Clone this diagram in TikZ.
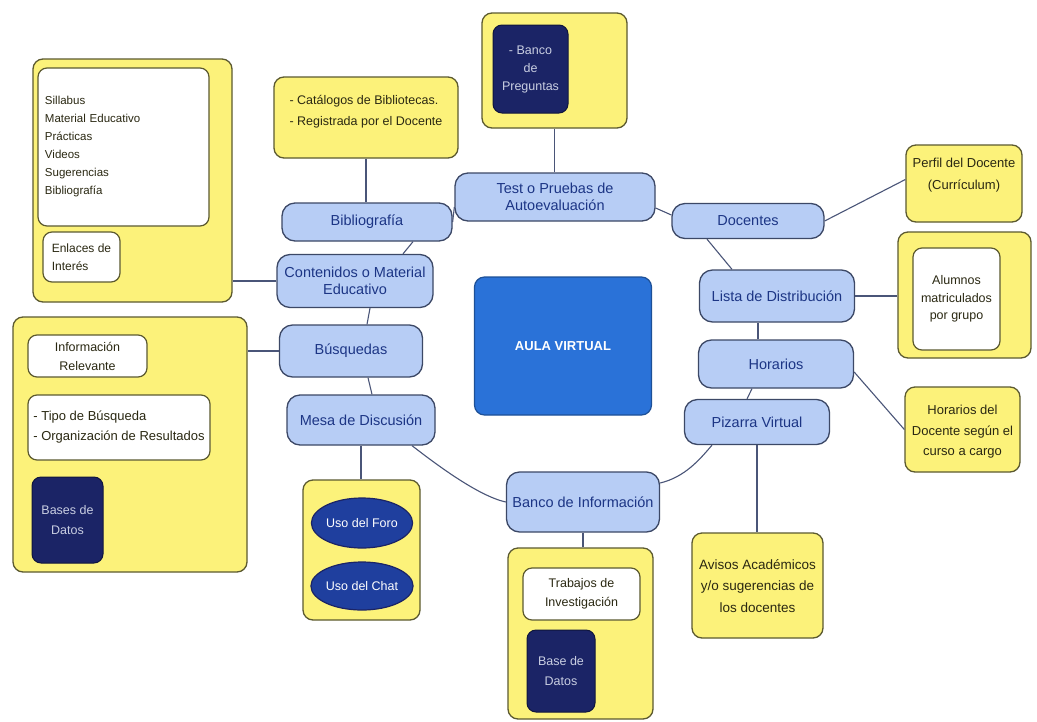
\documentclass[tikz,border=0pt]{standalone}
\usepackage{fontspec}
\setmainfont{Liberation Sans}
\usetikzlibrary{shapes.geometric}

\definecolor{lblue}{HTML}{B7CDF5}
\definecolor{bordblue}{HTML}{3C4866}
\definecolor{tblue}{HTML}{1C3585}
\definecolor{yfill}{HTML}{FCF27A}
\definecolor{ybord}{HTML}{5C5A30}
\definecolor{ytext}{HTML}{2A2812}
\definecolor{navy}{HTML}{1B2466}
\definecolor{navytext}{HTML}{C9CEE2}
\definecolor{ellfill}{HTML}{1F3F9E}
\definecolor{aulafill}{HTML}{2A72D8}
\definecolor{linkc}{HTML}{4A5578}

\tikzset{
  bnode/.style={draw=bordblue, fill=lblue, rounded corners=13pt, line width=1.3pt,
    text=tblue, font=\fontsize{14.5}{17}\selectfont, align=center, inner sep=0pt},
  ybox/.style={draw=ybord, fill=yfill, rounded corners=10pt, line width=1.3pt, inner sep=0pt},
  wbox/.style={draw=ybord, fill=white, rounded corners=9pt, line width=1.2pt, inner sep=0pt,
    align=center, text=ytext, font=\fontsize{12.5}{16}\selectfont},
  nbox/.style={draw=navy!60!black, fill=navy, rounded corners=9pt, line width=1pt, inner sep=0pt,
    align=center, text=navytext, font=\fontsize{12.5}{18}\selectfont},
  ell/.style={ellipse, draw=navy, fill=ellfill, line width=1.2pt, inner sep=0pt,
    text=white, font=\fontsize{12.5}{15}\selectfont},
  ytxt/.style={align=center, text=ytext, font=\fontsize{13}{20.5}\selectfont, inner sep=0pt},
  link/.style={draw=linkc, line width=1.1pt}
}

\begin{document}
\begin{tikzpicture}[x=1pt, y=-1pt]
\useasboundingbox[fill=white] (0,0) rectangle (1037,721);

% centre
\node[draw=aulafill!70!black, fill=aulafill, rounded corners=10pt, line width=1.2pt,
  minimum width=177pt, minimum height=138pt, text=white,
  font=\bfseries\fontsize{13}{15}\selectfont] (aula) at (563,346) {AULA VIRTUAL};

% ring of topics
\node[bnode, minimum width=170pt, minimum height=38pt] (bib) at (367,222) {Bibliografía};
\node[bnode, minimum width=156pt, minimum height=53pt] (cont) at (355,281) {Contenidos o Material\\Educativo};
\node[bnode, minimum width=143pt, minimum height=52pt] (busq) at (351,351) {Búsquedas};
\node[bnode, minimum width=148pt, minimum height=50pt] (mesa) at (361,420) {Mesa de Discusión};
\node[bnode, minimum width=200pt, minimum height=48pt] (test) at (555,197) {Test o Pruebas de\\Autoevaluación};
\node[bnode, minimum width=152pt, minimum height=35pt] (doc) at (748,221) {Docentes};
\node[bnode, minimum width=155pt, minimum height=52pt] (lista) at (777,296) {Lista de Distribución};
\node[bnode, minimum width=155pt, minimum height=48pt] (hor) at (776,364) {Horarios};
\node[bnode, minimum width=145pt, minimum height=45pt] (piz) at (757,422) {Pizarra Virtual};
\node[bnode, minimum width=153pt, minimum height=60pt] (banco) at (583,502) {Banco de Información};

% contents box (top left)
\node[ybox, minimum width=199pt, minimum height=243pt] (yTL) at (132.5,180.5) {};
\node[wbox, minimum width=171pt, minimum height=158pt, text width=157pt, align=left,
  font=\fontsize{11.5}{18}\selectfont] (wTL) at (123.5,147)
  {Sillabus\\Material Educativo\\Prácticas\\Videos\\Sugerencias\\Bibliografía};
\node[wbox, minimum width=77pt, minimum height=50pt, align=left,
  font=\fontsize{12}{18}\selectfont] (wEnl) at (81.5,257) {Enlaces de\\Interés};

% catalogues
\node[ybox, minimum width=184pt, minimum height=81pt] (yCat) at (366,117.5) {};
\node[ytxt, align=left, font=\fontsize{12.5}{21}\selectfont] (yCatT) at (366,112)
  {- Catálogos de Bibliotecas.\\- Registrada por el Docente};

% question bank
\node[ybox, minimum width=145pt, minimum height=115pt] (yBP) at (554.5,70.5) {};
\node[nbox, minimum width=75pt, minimum height=88pt] (nBP) at (530.5,69) {- Banco\\de\\Preguntas};

% teacher profile
\node[ybox, minimum width=116pt, minimum height=77pt] (yPerf) at (964,183.5) {};
\node[ytxt, font=\fontsize{13}{22}\selectfont] (yPerfT) at (964,175) {Perfil del Docente\\(Currículum)};

% students
\node[ybox, minimum width=133pt, minimum height=126pt] (yAlum) at (964.5,295) {};
\node[wbox, minimum width=87pt, minimum height=102pt, font=\fontsize{12.5}{17.5}\selectfont]
  (wAlum) at (956.5,299) {Alumnos\\matriculados\\por grupo};

% timetable
\node[ybox, minimum width=115pt, minimum height=85pt] (yHor) at (962.5,429.5) {};
\node[ytxt] (yHorT) at (962.5,432) {Horarios del\\Docente según el\\curso a cargo};

% notices
\node[ybox, minimum width=131pt, minimum height=105pt] (yAv) at (757.5,585.5) {};
\node[ytxt, font=\fontsize{13.5}{21.5}\selectfont] (yAvT) at (757.5,586)
  {Avisos Académicos\\y/o sugerencias de\\los docentes};

% information bank
\node[ybox, minimum width=145pt, minimum height=171pt] (yBanco) at (580.5,633.5) {};
\node[wbox, minimum width=117pt, minimum height=52pt, font=\fontsize{12.5}{19}\selectfont]
  (wTrab) at (581.5,594) {Trabajos de\\Investigación};
\node[nbox, minimum width=68pt, minimum height=82pt, font=\fontsize{12.5}{20}\selectfont]
  (nBase) at (561,671) {Base de\\Datos};

% forum and chat
\node[ybox, minimum width=117pt, minimum height=140pt] (yForo) at (361.5,550) {};
\node[ell, minimum width=100pt, minimum height=50pt] (eForo) at (362,523) {Uso del Foro};
\node[ell, minimum width=100pt, minimum height=48pt] (eChat) at (362,586) {Uso del Chat};

% searches
\node[ybox, minimum width=234pt, minimum height=255pt] (yBusq) at (130,444.5) {};
\node[wbox, minimum width=119pt, minimum height=42pt, font=\fontsize{12.5}{19}\selectfont]
  (wInfo) at (87.5,356) {Información\\Relevante};
\node[wbox, minimum width=182pt, minimum height=65pt, align=left,
  font=\fontsize{13}{20}\selectfont] (wTipo) at (119,427.5)
  {- Tipo de Búsqueda\\- Organización de Resultados};
\node[nbox, minimum width=71pt, minimum height=86pt, font=\fontsize{12.5}{20}\selectfont]
  (nBases) at (67.5,520) {Bases de\\Datos};

% connectors
\draw[link] (yCat.south) -- (yCat.south |- bib.north);
\draw[link] (bib.east) -- ([yshift=-10]test.west);
\draw[link] ([xshift=46]bib.south) -- ([xshift=48]cont.north);
\draw[link] ([xshift=15]cont.south) -- ([xshift=16]busq.north);
\draw[link] ([xshift=17]busq.south) -- ([xshift=11]mesa.south |- mesa.north);
\draw[link] (cont.west) -- (cont.west -| yTL.east);
\draw[link] (busq.west) -- (busq.west -| yBusq.east);
\draw[link] (mesa.south) -- (mesa.south |- yForo.north);
\draw[link] ([xshift=51]mesa.south) .. controls +(22,17) and +(-28,-6) .. (banco.west);
\draw[link] ([yshift=19]banco.east) .. controls +(25,-6) and +(-12,14) .. ([xshift=-45]piz.south);
\draw[link] (piz.south) -- (piz.south |- yAv.north);
\draw[link] ([xshift=-10]piz.north) -- ([xshift=-24]hor.south);
\draw[link] ([xshift=-18]hor.north) -- ([xshift=-19]lista.south);
\draw[link] ([yshift=-8]hor.east) -- (yHor.west);
\draw[link] (lista.east) -- (lista.east -| yAlum.west);
\draw[link] ([xshift=-45]lista.north) -- ([xshift=-41]doc.south);
\draw[link] (doc.east) -- ([yshift=4]yPerf.west);
\draw[link] ([yshift=-11]test.east) -- ([yshift=6]doc.west);
\draw[link] (yBP.south) -- (yBP.south |- test.north);
\draw[link] (banco.south) -- (banco.south |- yBanco.north);
\end{tikzpicture}
\end{document}
